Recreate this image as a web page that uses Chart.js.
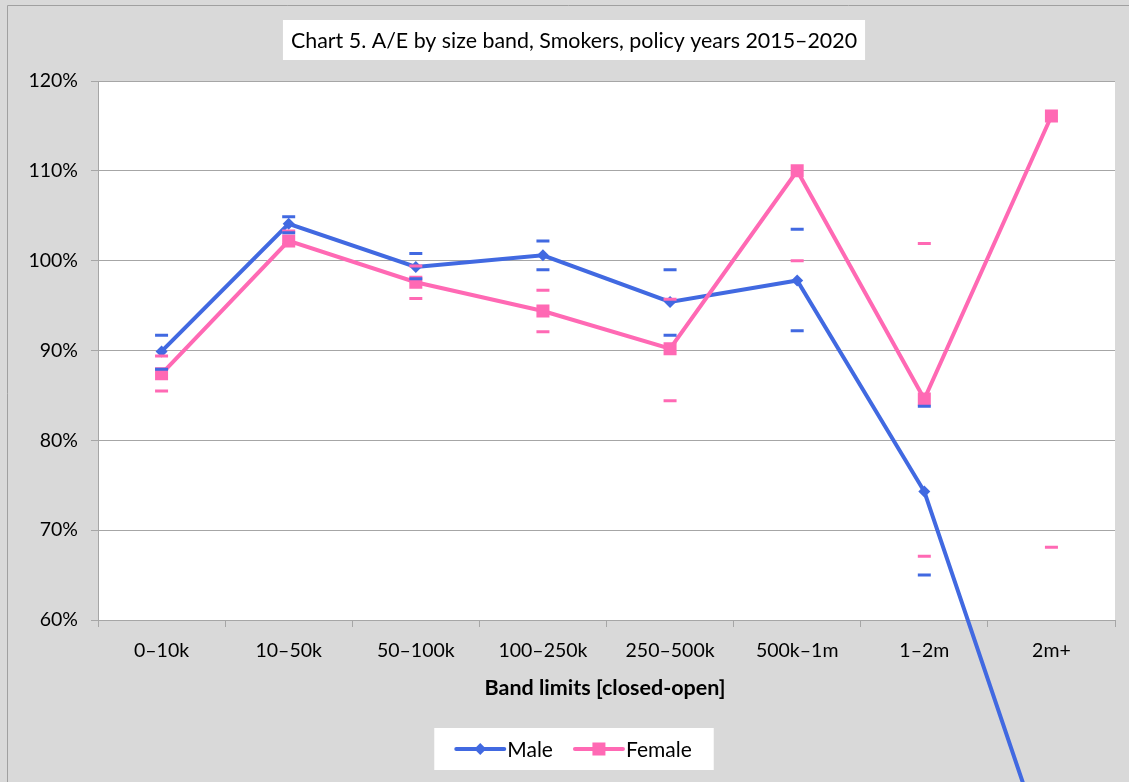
<!DOCTYPE html>
<html><head><meta charset="utf-8">
<script src="https://cdn.jsdelivr.net/npm/chart.js@4.4.1/dist/chart.umd.min.js"></script>
<style>html,body{margin:0;padding:0;background:#d9d9d9;overflow:hidden}#wrap{width:1129px;height:782px;position:relative}</style>
</head><body><div id="wrap"><canvas id="c"></canvas></div>
<script>
const TITLE = 'Chart 5. A/E by size band, Smokers, policy years 2015\u20132020';
const X_TITLE = 'Band limits [closed-open]';
const categories = ['0\u201310k','10\u201350k','50\u2013100k','100\u2013250k','250\u2013500k','500k\u20131m','1\u20132m','2m+'];
const maleAE      = [89.9, 104.1, 99.3, 100.6, 95.4, 97.8, 74.3, 32.5];
const femaleAE    = [87.4, 102.2, 97.6, 94.4, 90.2, 110.0, 84.6, 116.1];
const maleUpper   = [91.7, 104.9, 100.8, 102.2, 99.0, 103.5, 83.8, null];
const maleLower   = [87.9, 103.1, 98.0, 99.0, 91.7, 92.2, 65.0, null];
const femaleUpper = [89.4, 103.3, 99.4, 96.7, 95.7, null, 101.9, null];
const femaleLower = [85.5, 101.8, 95.8, 92.1, 84.4, 100.0, 67.1, 68.1];
const yTicks = [60, 70, 80, 90, 100, 110, 120];

const BLUE = '#4169E1', PINK = '#FF69B4', GRID = '#a6a6a6';
const FONT = 'Lato, "Open Sans", sans-serif';

function dash(data, color){
  return {type:'line', data, showLine:false, borderColor:color, backgroundColor:color,
    pointStyle:'line', pointRadius:6.5, pointBorderWidth:3, pointHoverRadius:6.5, order:0};
}

const decor = {
  id:'decor',
  beforeDraw(chart){
    const {ctx, chartArea:a} = chart;
    ctx.save();
    ctx.fillStyle = '#fff';
    ctx.fillRect(a.left, a.top, a.right - a.left, a.bottom - a.top);
    ctx.strokeStyle = '#a0a0a0'; ctx.lineWidth = 1;
    ctx.beginPath(); ctx.moveTo(7.5, 782); ctx.lineTo(7.5, 5.5); ctx.lineTo(1129, 5.5); ctx.stroke();
    // title
    ctx.font = '21.4px ' + FONT;
    const w = ctx.measureText(TITLE).width;
    ctx.fillStyle = '#fff';
    ctx.fillRect(574 - w/2 - 8, 20, w + 16, 40);
    ctx.fillStyle = '#000'; ctx.textAlign = 'center'; ctx.textBaseline = 'middle';
    ctx.fillText(TITLE, 574, 41);
    // x axis title
    ctx.font = 'bold 21.5px ' + FONT;
    ctx.fillText(X_TITLE, 605, 688);
    ctx.restore();
  },
  afterDraw(chart){
    const ctx = chart.ctx;
    ctx.save();
    ctx.font = '21px ' + FONT;
    const items = [{t:'Male', c:BLUE, s:'diamond'}, {t:'Female', c:PINK, s:'square'}];
    const lineW = 48, gap = 3, itemGap = 22, padX = 22;
    let total = 0;
    items.forEach((it,i)=>{ it.w = ctx.measureText(it.t).width; total += lineW + gap + it.w + (i ? itemGap : 0); });
    const boxW = total + 2*padX, cx = 574, y = 749;
    ctx.fillStyle = '#fff';
    ctx.fillRect(cx - boxW/2, 728, boxW, 42);
    let x = cx - total/2;
    items.forEach((it,i)=>{
      if (i) x += itemGap;
      ctx.strokeStyle = it.c; ctx.lineWidth = 4; ctx.lineCap = 'round';
      ctx.beginPath(); ctx.moveTo(x, y); ctx.lineTo(x + lineW, y); ctx.stroke();
      ctx.fillStyle = it.c;
      const mx = x + lineW/2;
      if (it.s === 'diamond') {
        ctx.beginPath(); ctx.moveTo(mx, y-6); ctx.lineTo(mx+6, y); ctx.lineTo(mx, y+6); ctx.lineTo(mx-6, y); ctx.closePath(); ctx.fill();
      } else {
        ctx.fillRect(mx - 6.5, y - 6.5, 13, 13);
      }
      x += lineW + gap;
      ctx.fillStyle = '#000'; ctx.textAlign = 'left'; ctx.textBaseline = 'middle';
      ctx.fillText(it.t, x, y + 1);
      x += it.w;
    });
    ctx.restore();
  }
};

new Chart(document.getElementById('c'), {
  type:'line',
  data:{
    labels: categories,
    datasets:[
      {label:'Female', data:femaleAE, borderColor:PINK, backgroundColor:PINK, borderWidth:4,
        pointStyle:'rect', pointRadius:9.2, pointHoverRadius:9.2, pointBorderWidth:0, tension:0, order:1},
      {label:'Male', data:maleAE, borderColor:BLUE, backgroundColor:BLUE, borderWidth:4,
        pointStyle:'rectRot', pointRadius:6, pointHoverRadius:6, pointBorderWidth:0, tension:0, order:2, clip:false},
      Object.assign(dash(maleUpper, BLUE), {label:'Male upper'}),
      Object.assign(dash(maleLower, BLUE), {label:'Male lower'}),
      Object.assign(dash(femaleUpper, PINK), {label:'Female upper'}),
      Object.assign(dash(femaleLower, PINK), {label:'Female lower'})
    ]
  },
  options:{
    responsive:true, maintainAspectRatio:false, animation:false,
    layout:{padding:{top:81, left:0, right:14, bottom:0}},
    plugins:{legend:{display:false}, title:{display:false}, tooltip:{enabled:false}},
    scales:{
      x:{
        offset:true,
        afterFit(s){ s.height = 162; },
        grid:{offset:true, drawOnChartArea:false, color:GRID, tickLength:7},
        border:{color:GRID, width:1},
        ticks:{color:'#000', font:{family:FONT, size:19.5}, padding:12, maxRotation:0}
      },
      y:{
        min:60, max:120,
        afterFit(s){ s.width = 98; },
        afterBuildTicks(s){ s.ticks = yTicks.map(v=>({value:v})); },
        grid:{color:GRID, tickLength:7},
        border:{color:GRID, width:1},
        ticks:{color:'#000', font:{family:FONT, size:19.5}, padding:13, callback:v=>v+'%'}
      }
    }
  },
  plugins:[decor]
});
</script></body></html>
